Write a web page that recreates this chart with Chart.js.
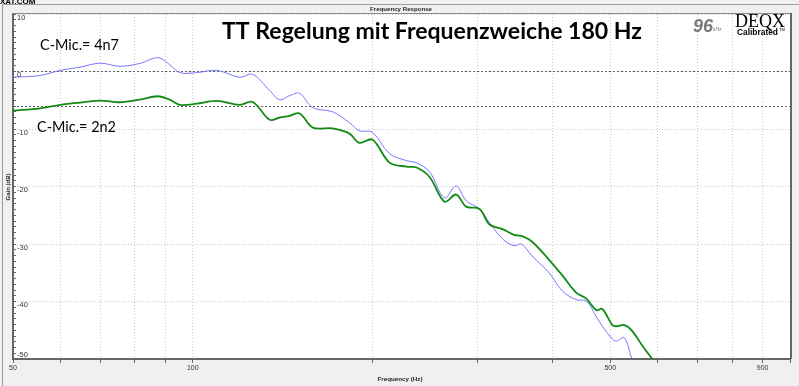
<!DOCTYPE html>
<html>
<head>
<meta charset="utf-8">
<script src="https://cdn.jsdelivr.net/npm/chart.js@4.4.0/dist/chart.umd.min.js"></script>
<style>
  html, body { margin: 0; padding: 0; background: #f0f0f0; }
  #wrap { width: 799px; height: 386px; }
</style>
</head>
<body>
<div id="wrap"><canvas id="fr" width="799" height="386"></canvas></div>
<script>
// frequencies (Hz)
const freqs = [50, 55.5, 60, 64.7, 70, 75.5, 81.5, 87.4, 91.5, 95.1,
  101.5, 109.7, 119.8, 126, 134.5, 139.8, 145.3, 151, 158.8, 171.4,
  183, 190, 200, 213.5, 228, 237, 249, 264, 276, 287,
  302, 314, 330, 345, 355, 370, 395, 416, 439, 456,
  474, 485, 504, 512, 528, 544, 566, 588];

// C-Mic. = 4n7 (blue)
const gain4n7 = [-1.0, -0.7, 0.2, 0.75, 1.45, 0.9, 1.4, 2.4, 1.2, -0.2,
  -0.2, 0.2, -1.0, -0.5, -3.3, -4.9, -4.2, -3.8, -6.3, -7.0,
  -8.9, -10.3, -10.6, -14.3, -15.5, -15.9, -17.4, -22.0, -19.9, -22.5,
  -23.9, -26.3, -29.1, -30.3, -30.0, -32.1, -35.0, -38.2, -39.7, -39.9,
  -42.7, -44.3, -46.5, -46.9, -46.3, -50.0, -53, -56];

// C-Mic. = 2n2 (green)
const gain2n2 = [-6.8, -6.4, -5.8, -5.4, -5.05, -5.35, -4.9, -4.3, -4.9, -5.8,
  -5.6, -5.1, -5.8, -5.3, -8.4, -8.0, -7.7, -7.3, -9.75, -9.9,
  -10.8, -12.4, -11.85, -15.85, -16.55, -16.7, -18.3, -22.65, -21.4, -23.5,
  -23.9, -26.6, -27.4, -28.4, -28.6, -29.6, -32.75, -35.5, -38.5, -39.5,
  -41.5, -41.3, -44.1, -44.3, -44.1, -45.1, -47.7, -50];

const xTicks = [50, 60, 70, 80, 90, 100, 200, 300, 400, 500, 600, 700, 800, 900, 1000];
const xLabels = [50, 100, 500, 900];
const yLabels = [10, 0, -10, -20, -30, -40, -50];
const refLevels = [0, -6];

function fitFont(ctx, text, style, family, w) {
  ctx.font = style + ' 100px ' + family;
  const size = 100 * w / ctx.measureText(text).width;
  return style + ' ' + size.toFixed(2) + 'px ' + family;
}

const panel = {
  id: 'panel',
  beforeDraw(chart) {
    const { ctx, chartArea: a, width, height } = chart;
    ctx.save();
    ctx.fillStyle = '#f0f0f0';
    ctx.fillRect(0, 0, width, height);
    ctx.fillStyle = '#ffffff';
    ctx.fillRect(a.left, a.top, a.right - a.left, a.bottom - a.top);
    ctx.strokeStyle = '#9a9a9a';
    ctx.lineWidth = 1;
    ctx.beginPath();
    ctx.moveTo(2.5, height);
    ctx.lineTo(2.5, 4.5);
    ctx.lineTo(width, 4.5);
    ctx.stroke();
    ctx.restore();
  },
  beforeDatasetsDraw(chart) {
    const { ctx, chartArea: a, scales } = chart;
    ctx.save();
    ctx.strokeStyle = '#666';
    ctx.lineWidth = 1;
    ctx.setLineDash([2, 2]);
    refLevels.forEach(v => {
      const y = Math.round(scales.y.getPixelForValue(v)) + 0.5;
      ctx.beginPath();
      ctx.moveTo(a.left, y);
      ctx.lineTo(a.right, y);
      ctx.stroke();
    });
    ctx.restore();
  },
  afterDatasetsDraw(chart) {
    const { ctx, chartArea: a } = chart;
    ctx.save();
    ctx.strokeStyle = '#8a8a8a';
    ctx.lineWidth = 1;
    ctx.beginPath();
    ctx.moveTo(a.left, a.top - 0.5);
    ctx.lineTo(a.right, a.top - 0.5);
    ctx.stroke();
    ctx.strokeStyle = '#666';
    ctx.lineWidth = 2;
    ctx.beginPath();
    ctx.moveTo(a.right + 1, a.top - 1);
    ctx.lineTo(a.right + 1, a.bottom);
    ctx.stroke();
    ctx.restore();
  },
  afterDraw(chart) {
    const { ctx, chartArea: a, scales } = chart;
    ctx.save();
    // y tick labels, inside the plot
    ctx.fillStyle = '#333';
    ctx.font = '7.5px "Liberation Sans", Arial, sans-serif';
    ctx.textAlign = 'left';
    ctx.textBaseline = 'middle';
    yLabels.forEach(v => {
      let y = scales.y.getPixelForValue(v) + 3.5;
      y = Math.min(Math.max(y, a.top + 4), a.bottom - 4);
      ctx.fillText(String(v), a.left + 4, y);
    });

    ctx.fillStyle = '#000';
    ctx.textBaseline = 'alphabetic';
    ctx.font = 'bold 8px "Liberation Sans", Arial, sans-serif';
    ctx.fillText('XAT.COM', 0, 3.5);

    ctx.fillStyle = '#222';
    ctx.textAlign = 'center';
    ctx.font = fitFont(ctx, 'Frequency Response', 'bold', '"Liberation Sans", Arial', 62);
    ctx.fillText('Frequency Response', 401, 11);
    ctx.font = fitFont(ctx, 'Frequency (Hz)', 'bold', '"Liberation Sans", Arial', 45);
    ctx.fillText('Frequency (Hz)', 400, 381);
    ctx.save();
    ctx.translate(9.5, 187);
    ctx.rotate(-Math.PI / 2);
    ctx.font = fitFont(ctx, 'Gain (dB)', 'bold', '"Liberation Sans", Arial', 27);
    ctx.fillText('Gain (dB)', 0, 0);
    ctx.restore();

    // headline and annotations
    ctx.fillStyle = '#000';
    ctx.textAlign = 'left';
    ctx.font = fitFont(ctx, 'TT Regelung mit Frequenzweiche 180 Hz', 'bold', 'Lato', 420);
    ctx.fillText('TT Regelung mit Frequenzweiche 180 Hz', 222, 39);
    ctx.font = fitFont(ctx, 'C-Mic.= 4n7', 'normal', 'Lato', 79);
    ctx.fillText('C-Mic.= 4n7', 40, 50);
    ctx.fillText('C-Mic.= 2n2', 37, 132);

    // logo
    ctx.fillStyle = '#7a7a7a';
    ctx.font = fitFont(ctx, '96', 'italic bold', '"Liberation Sans", Arial', 20);
    ctx.fillText('96', 693, 32);
    ctx.font = 'italic 5px "Liberation Sans", Arial';
    ctx.fillText('kHz', 713, 31);
    ctx.fillStyle = '#000';
    ctx.font = fitFont(ctx, 'DEQX', 'normal', '"Liberation Serif", serif', 50);
    ctx.fillText('DEQX', 735, 27);
    ctx.font = fitFont(ctx, 'Calibrated', 'bold', '"Liberation Sans", Arial', 41);
    ctx.fillText('Calibrated', 737, 35);
    ctx.font = '4px "Liberation Sans", Arial';
    ctx.fillText('TM', 779, 31);
    ctx.restore();
  }
};

new Chart(document.getElementById('fr').getContext('2d'), {
  type: 'line',
  data: {
    datasets: [
      {
        label: 'C-Mic.= 2n2',
        data: freqs.map((f, i) => ({ x: f, y: gain2n2[i] })),
        borderColor: '#138a13',
        borderWidth: 1.8,
        pointRadius: 0,
        tension: 0.35,
        order: 0
      },
      {
        label: 'C-Mic.= 4n7',
        data: freqs.map((f, i) => ({ x: f, y: gain4n7[i] })),
        borderColor: '#7878ff',
        borderWidth: 1,
        pointRadius: 0,
        tension: 0.35,
        order: 1
      }
    ]
  },
  options: {
    responsive: false,
    animation: false,
    devicePixelRatio: 1,
    layout: { padding: { top: 14, right: 9, left: 0, bottom: 0 } },
    plugins: { legend: { display: false }, tooltip: { enabled: false } },
    scales: {
      x: {
        type: 'logarithmic',
        min: 50,
        max: 1000,
        afterBuildTicks: s => { s.ticks = xTicks.map(v => ({ value: v })); },
        afterFit: s => { s.height = 27; },
        ticks: {
          autoSkip: false,
          maxRotation: 0,
          padding: 1,
          color: '#333',
          font: { family: '"Liberation Sans", Arial', size: 7 },
          callback: v => xLabels.includes(v) ? String(v) : ''
        },
        grid: {
          color: '#c8c8c8',
          borderDash: [1, 2],
          tickColor: '#666',
          tickLength: 4
        },
        border: { color: '#666', width: 2, dash: [1, 2] }
      },
      y: {
        type: 'linear',
        min: -50,
        max: 10,
        afterBuildTicks: s => {
          const t = [];
          for (let v = -50; v <= 10; v++) t.push({ value: v });
          s.ticks = t;
        },
        afterFit: s => { s.width = 13; },
        ticks: { display: false },
        grid: {
          color: c => (c.tick && c.tick.value % 10 === 0) ? '#c8c8c8' : 'rgba(0,0,0,0)',
          borderDash: [1, 2],
          tickColor: '#666',
          tickLength: -3
        },
        border: { color: '#666', width: 2, dash: [1, 2] }
      }
    }
  },
  plugins: [panel]
});
</script>
</body>
</html>
